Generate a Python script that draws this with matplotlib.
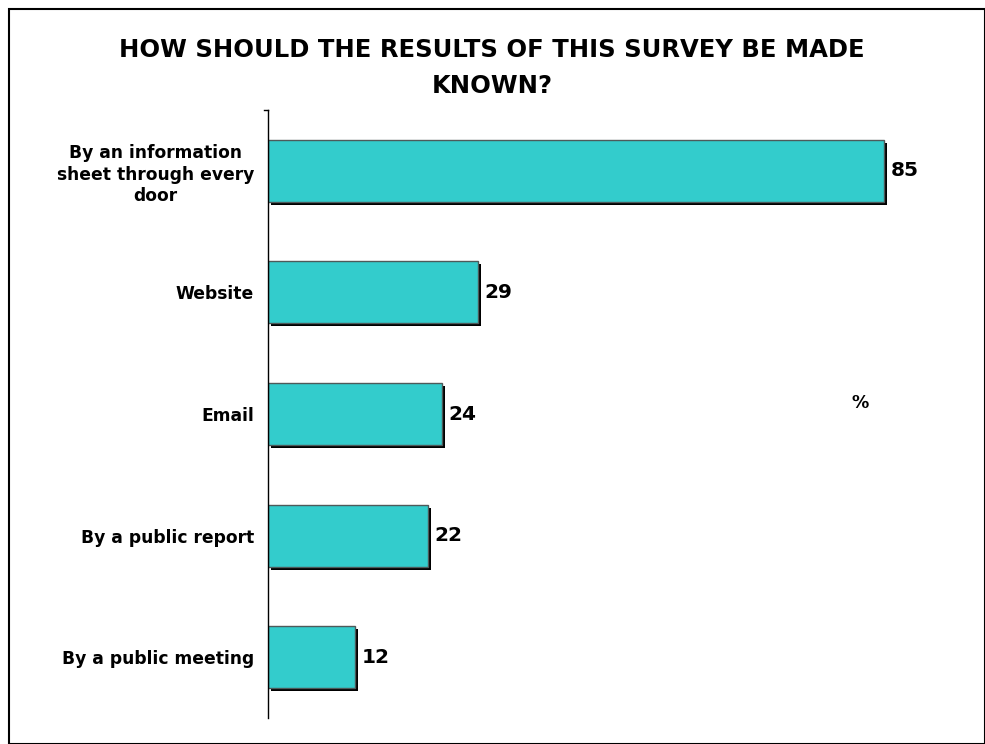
#!/usr/bin/env python3
"""Horizontal bar chart: how should the survey results be made known."""

import matplotlib

matplotlib.use("Agg")
import matplotlib.pyplot as plt
from matplotlib.patches import Rectangle

categories = [
    "By an information\nsheet through every\ndoor",
    "Website",
    "Email",
    "By a public report",
    "By a public meeting",
]
values = [85, 29, 24, 22, 12]

W, H = 985, 744
fig = plt.figure(figsize=(W / 100, H / 100), dpi=100)
plt.rcParams["font.family"] = ["DejaVu Sans"]

# outer frame
fig.patches.append(
    Rectangle((9 / W, 0), 1 - 9 / W, 1 - 9 / H, transform=fig.transFigure,
              fill=False, edgecolor="black", linewidth=1.5)
)

left, right, top, bottom = 268, 950, 110, 718
ax = fig.add_axes([left / W, 1 - bottom / H, (right - left) / W, (bottom - top) / H])

xmax = (right - left) / 7.25
ax.set_xlim(0, xmax)
ax.set_ylim(len(categories) - 0.5, -0.5)

ypos = list(range(len(categories)))
bar_h = 0.51
# drop shadow
sx = 3 / 7.25
sy = 3 / 121.6
ax.barh([y + sy for y in ypos], values, left=sx, height=bar_h,
        color="black", zorder=1)
ax.barh(ypos, values, height=bar_h, color="#33CCCC", edgecolor="#4d5a5a",
        linewidth=1.0, zorder=2)

for y, v in zip(ypos, values):
    ax.text(v + 0.9, y, str(v), va="center", ha="left", fontsize=14.5,
            fontweight="bold")

ax.set_yticks(ypos)
ax.set_yticklabels(categories, fontsize=12.3, fontweight="bold", ha="right",
                   multialignment="center", linespacing=1.25)
ax.tick_params(axis="y", length=0, pad=10)
ax.set_xticks([])
for side in ("top", "right", "bottom"):
    ax.spines[side].set_visible(False)
ax.spines["left"].set_linewidth(1.0)
ax.plot([-4 / 7.25, 0], [-0.5, -0.5], color="black", lw=1.0, clip_on=False)

fig.text(860 / W, 1 - 403 / H, "%", ha="center", va="center", fontsize=12.5,
         fontweight="bold")
fig.text(492 / W, 1 - 68 / H, "HOW SHOULD THE RESULTS OF THIS SURVEY BE MADE\nKNOWN?",
         ha="center", va="center", fontsize=17.5, fontweight="bold", linespacing=1.6)

fig.savefig("out.png", dpi=100)
plt.close(fig)
